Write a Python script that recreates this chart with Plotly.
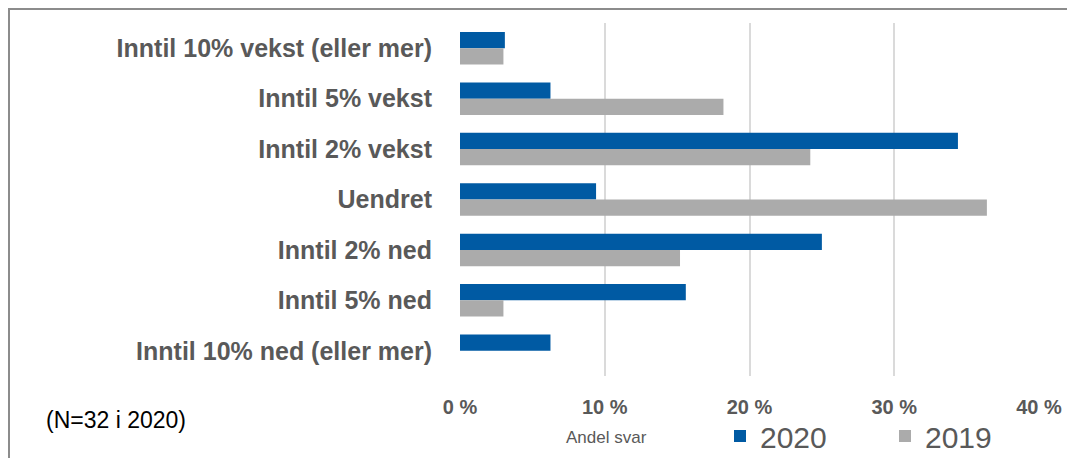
import plotly.graph_objects as go

categories = [
    "Inntil 10% vekst (eller mer)",
    "Inntil 5% vekst",
    "Inntil 2% vekst",
    "Uendret",
    "Inntil 2% ned",
    "Inntil 5% ned",
    "Inntil 10% ned (eller mer)",
]
values_2020 = [3.1, 6.25, 34.4, 9.4, 25.0, 15.6, 6.25]
values_2019 = [3.0, 18.2, 24.2, 36.4, 15.2, 3.0, 0.0]
tick_values = [0, 10, 20, 30, 40]
tick_labels = ["0 %", "10 %", "20 %", "30 %", "40 %"]

BLUE = "#005AA3"
GREY = "#ABABAB"
TEXT = "#595959"
FONT = "Liberation Sans, Arial, sans-serif"

fig = go.Figure()
fig.add_trace(go.Bar(y=categories, x=values_2020, name="2020", orientation="h",
                     marker=dict(color=BLUE, line=dict(width=0))))
fig.add_trace(go.Bar(y=categories, x=values_2019, name="2019", orientation="h",
                     marker=dict(color=GREY, line=dict(width=0))))

fig.update_layout(
    width=1067, height=458,
    margin=dict(l=460, r=28, t=23, b=82, autoexpand=False),
    paper_bgcolor="white", plot_bgcolor="white",
    barmode="group", bargap=0.355, bargroupgap=0,
    font=dict(family=FONT, color=TEXT),
    xaxis=dict(range=[0, 40], tickvals=tick_values, ticktext=tick_labels,
               showgrid=True, gridcolor="#DADADA", gridwidth=2,
               zeroline=False, showline=False, ticks="",
               ticklabelstandoff=17,
               tickfont=dict(size=20, color=TEXT, family=FONT, weight="bold")),
    yaxis=dict(autorange="reversed", showgrid=False, zeroline=False, showline=False,
               ticks="", ticklabelstandoff=27,
               tickfont=dict(size=25, color=TEXT, family=FONT, weight="bold")),
    legend=dict(orientation="h", x=(720 - 460) / 579, y=(376 - 436) / 353,
                xanchor="left", yanchor="middle",
                font=dict(size=30, color=TEXT, family=FONT),
                entrywidth=120, bgcolor="rgba(0,0,0,0)"),
    annotations=[
        dict(text="Andel svar", xref="paper", yref="paper", x=(606 - 460) / 579,
             y=(376 - 437) / 353, xanchor="center", yanchor="middle", showarrow=False,
             font=dict(size=17, color=TEXT, family=FONT)),
        dict(text="(N=32 i 2020)", xref="paper", yref="paper", x=(44 - 460) / 579,
             y=(376 - 420) / 353, xanchor="left", yanchor="middle", showarrow=False,
             font=dict(size=23, color="#000000", family=FONT)),
    ],
    shapes=[
        dict(type="rect", xref="paper", yref="paper",
             x0=(9 - 460) / 579, x1=1.2, y0=-0.5, y1=(376 - 9) / 353,
             line=dict(color="#8C8C8C", width=2), fillcolor="rgba(0,0,0,0)", layer="below"),
    ],
)

fig.write_html("out.html", config={"displayModeBar": False},
               post_script="document.body.style.margin='0';")
